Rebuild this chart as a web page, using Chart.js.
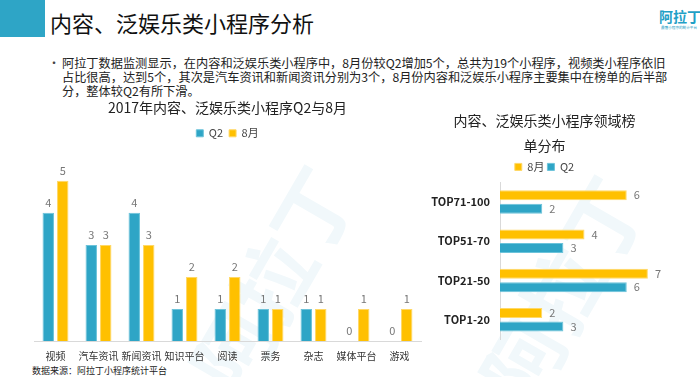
<!DOCTYPE html>
<html>
<head>
<meta charset="utf-8">
<script src="https://cdn.jsdelivr.net/npm/chart.js@4"></script>
<style>
body{margin:0;width:700px;height:377px;overflow:hidden;background:#fff;font-family:"Noto Sans CJK SC","Noto Sans",sans-serif;position:relative;}
#bluebox{position:absolute;left:0;top:0;width:45px;height:37px;background:#2EA5C6;}
#title{position:absolute;left:50px;top:6px;font-size:22px;color:#111;line-height:32px;}
#logo{position:absolute;left:659px;top:7px;font-size:14px;font-weight:bold;color:#1FA0C6;line-height:18px;white-space:nowrap;}
#logosub{position:absolute;left:661px;top:25px;font-size:6px;transform:scale(0.6);transform-origin:left top;color:#1FA0C6;white-space:nowrap;}
#bullet{position:absolute;left:62px;top:56px;font-size:12.2px;line-height:14px;color:#222;white-space:nowrap;}
#dot{position:absolute;left:48px;top:56px;font-size:12px;line-height:14px;color:#444;}
#source{position:absolute;left:32px;top:364px;font-size:9px;color:#222;}
.wm{position:absolute;color:#f1f8fb;font-size:80px;font-weight:bold;transform:rotate(-60deg);white-space:nowrap;}
#c1{position:absolute;left:20px;top:95px;}
#c2{position:absolute;left:420px;top:101px;}
</style>
</head>
<body>
<div class="wm" style="left:150px;top:220px;">阿拉丁</div>
<div class="wm" style="left:440px;top:230px;">阿拉丁</div>
<div id="bluebox"></div>
<div id="title">内容、泛娱乐类小程序分析</div>
<div id="logo">阿拉丁</div>
<div id="logosub">最懂小程序的统计平台</div>
<div id="dot">•</div>
<div id="bullet">阿拉丁数据监测显示，在内容和泛娱乐类小程序中，8月份较Q2增加5个，总共为19个小程序，视频类小程序依旧<br>占比很高，达到5个，其次是汽车资讯和新闻资讯分别为3个，8月份内容和泛娱乐小程序主要集中在榜单的后半部<br>分，整体较Q2有所下滑。</div>
<div id="source">数据来源：阿拉丁小程序统计平台</div>
<canvas id="c1" width="415" height="276"></canvas>
<canvas id="c2" width="280" height="247"></canvas>
<script>
// left chart: categories Q2 vs Aug
const categories = ['视频', '汽车资讯', '新闻资讯', '知识平台', '阅读', '票务', '杂志', '媒体平台', '游戏'];
const q2Values = [4, 3, 4, 1, 1, 1, 1, 0, 0];
const augValues = [5, 3, 3, 2, 2, 1, 1, 1, 1];

// right chart: ranking segments
const rankLabels = ['TOP71-100', 'TOP51-70', 'TOP21-50', 'TOP1-20'];
const rankAug = [6, 4, 7, 2];
const rankQ2 = [2, 3, 6, 3];

const BLUE = '#2EA5C6';
const YELLOW = '#FFC000';
const FONT = '"Noto Sans CJK SC", "Noto Sans", sans-serif';

Chart.defaults.font.family = FONT;
Chart.defaults.animation = false;

// draws the value next to each bar
const valueLabels = {
    id: 'valueLabels',
    afterDatasetsDraw(chart){
        const ctx = chart.ctx;
        const horizontal = chart.options.indexAxis === 'y';
        ctx.save();
        ctx.fillStyle = '#777';
        ctx.font = '11px ' + FONT;
        chart.data.datasets.forEach((ds, i) => {
            chart.getDatasetMeta(i).data.forEach((bar, j) => {
                const v = ds.data[j];
                if (horizontal){
                    ctx.textAlign = 'left';
                    ctx.textBaseline = 'middle';
                    ctx.fillText(v, bar.x + 7, bar.y);
                } else {
                    ctx.textAlign = 'center';
                    ctx.textBaseline = 'middle';
                    ctx.fillText(v, bar.x, bar.y - 10);
                }
            });
        });
        ctx.restore();
    }
};

new Chart(document.getElementById('c1'), {
    type: 'bar',
    data: {
        labels: categories,
        datasets: [
            {label: 'Q2', data: q2Values, backgroundColor: BLUE, borderColor: '#6cc3da', borderWidth: 1},
            {label: '8月', data: augValues, backgroundColor: YELLOW, borderColor: '#ffd866', borderWidth: 1}
        ]
    },
    options: {
        responsive: false,
        categoryPercentage: 0.674,
        barPercentage: 0.79,
        layout: {padding: {left: 14, right: 14, top: 4, bottom: 0}},
        plugins: {
            title: {display: true, text: '2017年内容、泛娱乐类小程序Q2与8月', color: '#222', font: {size: 14, weight: 'normal'}, padding: {top: 0, bottom: 6}},
            legend: {display: true, labels: {boxWidth: 7, boxHeight: 7, color: '#444', font: {size: 11}, padding: 6}},
            tooltip: {enabled: false}
        },
        scales: {
            x: {
                grid: {display: false, drawTicks: false},
                border: {color: '#d9d9d9'},
                ticks: {color: '#333', font: {size: 10}, padding: 9, maxRotation: 0, minRotation: 0, autoSkip: false}
            },
            y: {display: false, min: 0, max: 6}
        }
    },
    plugins: [valueLabels]
});

new Chart(document.getElementById('c2'), {
    type: 'bar',
    data: {
        labels: rankLabels,
        datasets: [
            {label: '8月', data: rankAug, backgroundColor: YELLOW, borderColor: '#ffd866', borderWidth: 1},
            {label: 'Q2', data: rankQ2, backgroundColor: BLUE, borderColor: '#6cc3da', borderWidth: 1}
        ]
    },
    options: {
        indexAxis: 'y',
        responsive: false,
        categoryPercentage: 0.69,
        barPercentage: 0.74,
        layout: {padding: {left: 0, right: 31, top: 7, bottom: 3}},
        plugins: {
            title: {display: true, text: ['内容、泛娱乐类小程序领域榜', '单分布'], color: '#222', font: {size: 14, weight: 'normal', lineHeight: 1.8}, padding: {top: 0, bottom: 0}},
            legend: {display: true, labels: {boxWidth: 7, boxHeight: 7, color: '#444', font: {size: 11}, padding: 3}},
            tooltip: {enabled: false}
        },
        scales: {
            x: {display: false, min: 0, max: 8},
            y: {
                grid: {display: false},
                border: {color: '#d9d9d9'},
                ticks: {color: '#222', font: {size: 11, weight: 'bold'}, padding: 2},
                afterFit(scale){ scale.width = 80; }
            }
        }
    },
    plugins: [valueLabels]
});
</script>
</body>
</html>
